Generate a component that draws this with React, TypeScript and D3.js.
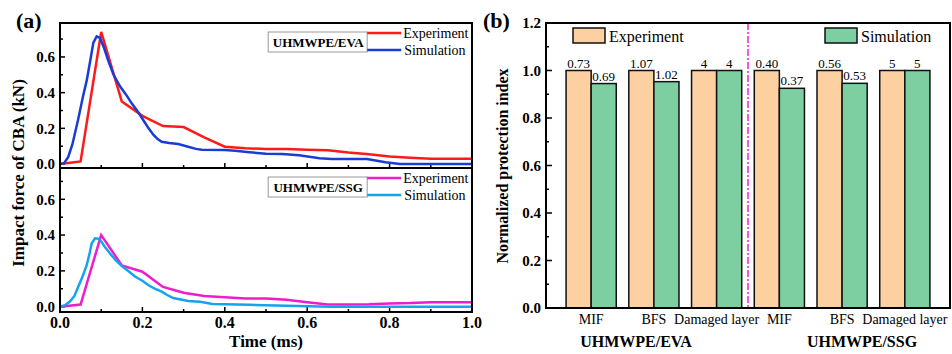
import React from "react";
import * as d3 from "d3";

// (a) impact force curves, [time (ms), force (kN)]
const evaExperiment: [number, number][] = [
  [0, 0], [0.05, 0.015], [0.1, 0.74], [0.15, 0.35], [0.2, 0.27], [0.25, 0.213], [0.3, 0.207],
  [0.35, 0.15], [0.4, 0.097], [0.45, 0.088], [0.5, 0.085], [0.55, 0.084], [0.6, 0.08],
  [0.65, 0.078], [0.7, 0.065], [0.75, 0.055], [0.8, 0.043], [0.85, 0.036], [0.9, 0.03],
  [0.95, 0.03], [1.0, 0.03],
];
const evaSimulation: [number, number][] = [
  [0, 0], [0.01, 0.005], [0.02, 0.04], [0.03, 0.11], [0.044, 0.25], [0.055, 0.37], [0.065, 0.47],
  [0.075, 0.6], [0.081, 0.68], [0.089, 0.715], [0.097, 0.706], [0.107, 0.65], [0.117, 0.58],
  [0.13, 0.5], [0.146, 0.434], [0.16, 0.39], [0.174, 0.34], [0.19, 0.29], [0.202, 0.247],
  [0.215, 0.2], [0.227, 0.163], [0.237, 0.14], [0.247, 0.125], [0.265, 0.118], [0.287, 0.112],
  [0.311, 0.097], [0.33, 0.085], [0.344, 0.08], [0.4, 0.079], [0.425, 0.074], [0.46, 0.066],
  [0.5, 0.058], [0.54, 0.056], [0.58, 0.05], [0.63, 0.032], [0.66, 0.028], [0.745, 0.028],
  [0.79, 0.01], [0.825, 0], [1.0, 0],
];
const ssgExperiment: [number, number][] = [
  [0, 0], [0.05, 0.012], [0.1, 0.4], [0.15, 0.23], [0.2, 0.195], [0.25, 0.11], [0.3, 0.078],
  [0.35, 0.06], [0.4, 0.052], [0.45, 0.046], [0.5, 0.045], [0.55, 0.038], [0.6, 0.025],
  [0.65, 0.012], [0.7, 0.012], [0.75, 0.013], [0.8, 0.018], [0.85, 0.02], [0.9, 0.025],
  [0.95, 0.025], [1.0, 0.025],
];
const ssgSimulation: [number, number][] = [
  [0, 0], [0.012, 0.008], [0.024, 0.028], [0.035, 0.06], [0.044, 0.11], [0.055, 0.17],
  [0.065, 0.233], [0.072, 0.3], [0.077, 0.354], [0.085, 0.382], [0.093, 0.38], [0.1, 0.365],
  [0.11, 0.33], [0.121, 0.298], [0.135, 0.26], [0.15, 0.227], [0.165, 0.2], [0.182, 0.168],
  [0.2, 0.145], [0.214, 0.121], [0.23, 0.1], [0.247, 0.084], [0.26, 0.065], [0.275, 0.048],
  [0.311, 0.032], [0.34, 0.027], [0.37, 0.015], [0.46, 0.01], [0.55, 0.005], [0.66, 0], [1.0, 0],
];

// (b) normalized protection index
const barCategories = ["MIF", "BFS", "Damaged layer", "MIF", "BFS", "Damaged layer"];
const barSeries = ["Experiment", "Simulation"];
const experimentNorm = [1, 1, 1, 1, 1, 1];
const simulationNorm = [0.945, 0.953, 1, 0.925, 0.946, 1];
const experimentLabels = ["0.73", "1.07", "4", "0.40", "0.56", "5"];
const simulationLabels = ["0.69", "1.02", "4", "0.37", "0.53", "5"];
const materialGroups = ["UHMWPE/EVA", "UHMWPE/SSG"];

const serif = "'Liberation Serif', 'Times New Roman', serif";
const colors = { red: "#ff1a1a", blue: "#1a3cd6", magenta: "#ee1ccc", cyan: "#14a3ec" };
const barColors = ["#fdd0a2", "#7dcea0"];

function ForcePanel({ yScale, x, exp, sim, expColor, simColor, name }: any) {
  const [top, bottom] = [yScale.range()[1], yScale.range()[0]];
  const line = d3.line<[number, number]>().x(d => x(d[0])).y(d => yScale(d[1]));
  const yTicks = yScale.ticks(8);
  const lx = x(0.748);
  return (
    <g>
      {yTicks.map((v: number) => {
        const major = Math.round(v * 10) % 2 === 0;
        return (
          <g key={v}>
            <line x1={x(0)} x2={x(0) + (major ? 5 : 3)} y1={yScale(v)} y2={yScale(v)} stroke="#000" strokeWidth={1.5} />
            {major && (
              <text x={x(0) - 5} y={yScale(v)} dy="0.35em" textAnchor="end" fontSize={15} fontWeight="bold" fontFamily={serif}>
                {d3.format(".1f")(v)}
              </text>
            )}
          </g>
        );
      })}
      {x.ticks(10).map((v: number) => (
        <line key={v} x1={x(v)} x2={x(v)} y1={bottom} y2={bottom - (Math.round(v * 10) % 2 === 0 ? 5 : 3)} stroke="#000" strokeWidth={1.5} />
      ))}
      <path d={line(exp) || ""} fill="none" stroke={expColor} strokeWidth={2.5} />
      <path d={line(sim) || ""} fill="none" stroke={simColor} strokeWidth={2.5} />
      {/* legend */}
      <rect x={lx - 100} y={top + 9} width={99} height={20} fill="#fff" stroke="#999" strokeWidth={1} />
      <text x={lx - 50} y={top + 23.5} textAnchor="middle" fontSize={13} fontWeight="bold" fontFamily={serif}>{name}</text>
      <line x1={lx - 1} x2={lx + 33} y1={top + 10} y2={top + 10} stroke={expColor} strokeWidth={2.5} />
      <line x1={lx - 1} x2={lx + 33} y1={top + 27} y2={top + 27} stroke={simColor} strokeWidth={2.5} />
      <text x={lx + 35} y={top + 15} fontSize={14} fontFamily={serif}>Experiment</text>
      <text x={lx + 36} y={top + 32} fontSize={14} fontFamily={serif}>Simulation</text>
    </g>
  );
}

export default function App() {
  const x = d3.scaleLinear().domain([0, 1]).range([60, 472]);
  const yTop = d3.scaleLinear().domain([-0.022, 0.79]).range([168, 23]);
  const yBot = d3.scaleLinear().domain([-0.03, 0.775]).range([312, 168]);

  const xb = d3.scaleBand<number>().domain(d3.range(barCategories.length)).range([546, 950]).paddingInner(0.2).paddingOuter(0.32);
  const xs = d3.scaleBand<string>().domain(barSeries).range([0, xb.bandwidth()]);
  const yb = d3.scaleLinear().domain([0, 1.2]).range([308, 23]);
  const divX = (xb(2)! + xb.bandwidth() + xb(3)!) / 2;

  return (
    <svg width={952} height={354} style={{ position: "absolute", left: 0, top: 0, background: "#fff" }} fontFamily={serif}>
      {/* panel (a) */}
      <text x={16} y={28} fontSize={22} fontWeight="bold">(a)</text>
      <ForcePanel yScale={yTop} x={x} exp={evaExperiment} sim={evaSimulation} expColor={colors.red} simColor={colors.blue} name={materialGroups[0]} />
      <ForcePanel yScale={yBot} x={x} exp={ssgExperiment} sim={ssgSimulation} expColor={colors.magenta} simColor={colors.cyan} name={materialGroups[1]} />
      <rect x={60} y={23} width={412} height={289} fill="none" stroke="#000" strokeWidth={2} />
      <line x1={60} x2={472} y1={168} y2={168} stroke="#000" strokeWidth={2} />
      {x.ticks(5).map(v => (
        <text key={v} x={x(v)} y={328} textAnchor="middle" fontSize={16} fontWeight="bold">{d3.format(".1f")(v)}</text>
      ))}
      <text x={266} y={347} textAnchor="middle" fontSize={17} fontWeight="bold">Time (ms)</text>
      <text transform="translate(24,173) rotate(-90)" textAnchor="middle" fontSize={17} fontWeight="bold">Impact force of CBA (kN)</text>

      {/* panel (b) */}
      <text x={483} y={28} fontSize={22} fontWeight="bold">(b)</text>
      {barCategories.map((c, i) => {
        const vals = [experimentNorm[i], simulationNorm[i]];
        const labs = [experimentLabels[i], simulationLabels[i]];
        return (
          <g key={i} transform={`translate(${xb(i)},0)`}>
            {barSeries.map((s, j) => (
              <g key={s}>
                <rect x={xs(s)} y={yb(vals[j])} width={xs.bandwidth()} height={yb(0) - yb(vals[j])} fill={barColors[j]} stroke="#111" strokeWidth={1.5} />
                <text x={xs(s)! + xs.bandwidth() / 2} y={yb(vals[j]) - 3} textAnchor="middle" fontSize={13}>{labs[j]}</text>
              </g>
            ))}
            <text x={xb.bandwidth() / 2} y={324} textAnchor="middle" fontSize={14}>{c}</text>
          </g>
        );
      })}
      {yb.ticks(12).map(v => {
        const major = Math.round(v * 10) % 2 === 0;
        return (
          <g key={v}>
            <line x1={546} x2={546 + (major ? 6 : 3)} y1={yb(v)} y2={yb(v)} stroke="#000" strokeWidth={1.5} />
            {major && (
              <text x={541} y={yb(v)} dy="0.35em" textAnchor="end" fontSize={15} fontWeight="bold">{d3.format(".1f")(v)}</text>
            )}
          </g>
        );
      })}
      <line x1={divX} x2={divX} y1={23} y2={308} stroke="#ee22dd" strokeWidth={1.5} strokeDasharray="7,2,2,2" />
      <rect x={546} y={23} width={404} height={285} fill="none" stroke="#000" strokeWidth={2} />
      {barSeries.map((s, j) => (
        <g key={s} transform={`translate(${j === 0 ? 573 : 825},28)`}>
          <rect width={32} height={15} fill={barColors[j]} stroke="#111" strokeWidth={1.5} />
          <text x={36} y={13.5} fontSize={16}>{s}</text>
        </g>
      ))}
      <text x={divX - 112} y={347} textAnchor="middle" fontSize={16} fontWeight="bold">{materialGroups[0]}</text>
      <text x={divX + 114} y={347} textAnchor="middle" fontSize={16} fontWeight="bold">{materialGroups[1]}</text>
      <text transform="translate(508,166) rotate(-90)" textAnchor="middle" fontSize={16} fontWeight="bold">Normalized protection index</text>
    </svg>
  );
}
